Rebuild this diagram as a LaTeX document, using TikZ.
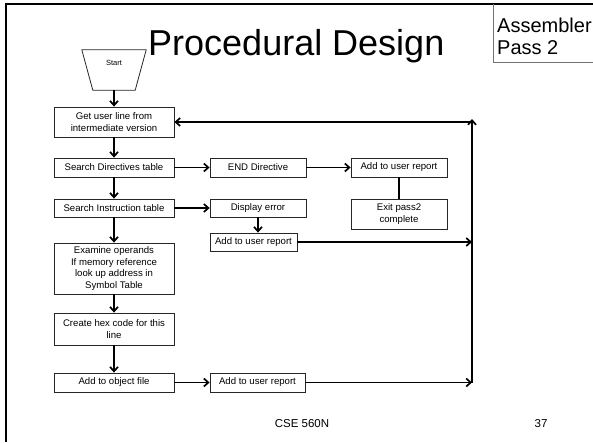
\documentclass[tikz,border=0pt]{standalone}
\usepackage{fontspec}
\setmainfont{Liberation Sans}
\usetikzlibrary{arrows.meta}

\begin{document}
\begin{tikzpicture}[x=1pt,y=-1pt,
  box/.style={draw=black!85, line width=0.8pt, fill=white, align=center,
    inner sep=1pt, font=\fontsize{9.6}{11.5}\selectfont},
  flow/.style={line width=1.6pt, draw=black,
    -{Straight Barb[length=4.5pt,width=8pt,line width=1.7pt]}},
  link/.style={line width=1.6pt, draw=black},
  frame/.style={line width=2pt, draw=black}]

\useasboundingbox (0,0) rectangle (593,442);

% slide frame (left and top edges)
\draw[frame] (5.5,442) -- (5.5,4) -- (593,4);

% section tag in the corner
\draw[draw=black!55, line width=0.8pt] (493,4) -- (493,62) -- (594,62);
\node[anchor=north west, align=left, inner sep=0,
      font=\fontsize{20}{22.5}\selectfont] (tag) at (497,17.5) {Assembler\\Pass 2};

% title
\node[anchor=base west, inner sep=0, font=\fontsize{36}{40}\selectfont]
  (title) at (148,55) {Procedural Design};

% start terminal: a trapezium, wide side on top
\node[minimum width=42pt, minimum height=40pt, inner sep=0,
      font=\fontsize{7.5}{9}\selectfont] (start) at (114,70)
      {\raisebox{5pt}[0pt][0pt]{Start}};
\draw[draw=black!85, line width=0.8pt]
  (start.south west) -- (start.south east)
  -- ([xshift=11pt]start.north east) -- ([xshift=-11pt]start.north west) -- cycle;

% main column
\node[box, minimum width=120pt, minimum height=30pt] (getuser) at (114,122)
  {Get user line from\\intermediate version};
\node[box, minimum width=120pt, minimum height=19pt] (searchdir) at (114,167.5)
  {Search Directives table};
\node[box, minimum width=120pt, minimum height=18pt] (searchins) at (114,208)
  {Search Instruction table};
\node[box, minimum width=120pt, minimum height=51pt] (examine) at (114,268.5)
  {Examine operands\\If memory reference\\look up address in\\Symbol Table};
\node[box, minimum width=120pt, minimum height=32pt] (hex) at (114,329)
  {Create hex code for this\\line};
\node[box, minimum width=120pt, minimum height=19pt] (objfile) at (114,382.5)
  {Add to object file};

% second column
\node[box, minimum width=96pt, minimum height=19pt] (enddir) at (258,167.5)
  {END Directive};
\node[box, minimum width=96pt, minimum height=18pt] (disperr) at (258,208)
  {Display error};
\node[box, minimum width=87pt, minimum height=18pt] (report1) at (253.5,242)
  {Add to user report};
\node[box, minimum width=95pt, minimum height=19pt] (report3) at (257.5,382.5)
  {Add to user report};

% third column
\node[box, minimum width=96pt, minimum height=19pt] (report2) at (399,167.5)
  {Add to user report};
\node[box, minimum width=96pt, minimum height=30pt] (exitp) at (399,214)
  {Exit pass2\\complete};

% return line
\coordinate (looptop) at (472,122);
\coordinate (loopbot) at (472,382.5);

% footer
\node[font=\fontsize{11.5}{13}\selectfont] (course) at (302,424) {CSE 560N};
\node[font=\fontsize{11.5}{13}\selectfont] (page) at (541,424) {37};

% connectors
\draw[flow] (start) -- (getuser);
\draw[flow] (getuser) -- (searchdir);
\draw[flow] (searchdir) -- (searchins);
\draw[flow] (searchins) -- (examine);
\draw[flow] (examine) -- (hex);
\draw[flow] (hex) -- (objfile);

\draw[flow] (searchdir) -- (enddir);
\draw[flow] (enddir) -- (report2);
\draw[link] (report2) -- (exitp);

\draw[flow] (searchins) -- (disperr);
\draw[flow] (disperr.south) -- (disperr.south |- report1.north);
\draw[flow] (report1.east) -- (report1.east -| loopbot);

\draw[flow] (objfile) -- (report3);
\draw[flow] (report3.east) -- (loopbot);
\draw[flow] (loopbot) -- ([yshift=3pt]looptop);
\draw[flow] (looptop) -- (getuser.east);

\end{tikzpicture}
\end{document}
